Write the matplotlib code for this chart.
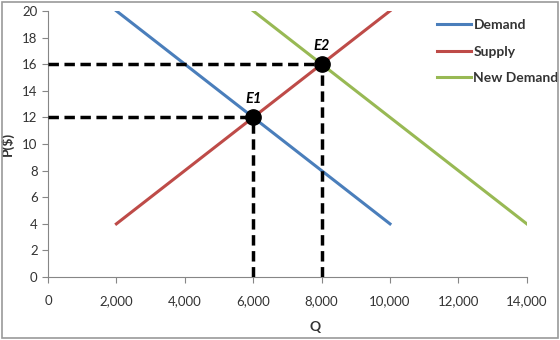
import matplotlib.pyplot as plt
from matplotlib.patches import Rectangle

plt.rcParams['font.family'] = ['Lato', 'DejaVu Sans']

# line end points
demand_q = [2000, 10000]
demand_p = [20, 4]
supply_q = [2000, 10000]
supply_p = [4, 20]
new_demand_q = [6000, 14000]
new_demand_p = [20, 4]

# equilibria
eq_names = ['E1', 'E2']
eq_q = [6000, 8000]
eq_p = [12, 16]

x_ticks = [0, 2000, 4000, 6000, 8000, 10000, 12000, 14000]
y_ticks = [0, 2, 4, 6, 8, 10, 12, 14, 16, 18, 20]

fig = plt.figure(figsize=(5.6, 3.4), dpi=100)
ax = fig.add_axes([0.0857, 0.185, 0.855, 0.783])

ax.plot(demand_q, demand_p, color='#4A7EBB', lw=2.2, label='Demand')
ax.plot(supply_q, supply_p, color='#BE4B48', lw=2.2, label='Supply')
ax.plot(new_demand_q, new_demand_p, color='#98B954', lw=2.2, label='New Demand')

for name, q, p in zip(eq_names, eq_q, eq_p):
    ax.plot([0, q], [p, p], color='black', lw=2.5, ls=(0, (3, 1.6)), zorder=4)
    ax.plot([q, q], [0, p], color='black', lw=2.5, ls=(0, (3, 1.6)), zorder=4)
    ax.plot(q, p, 'o', color='black', ms=11, zorder=5)
    ax.annotate(name, (q, p), xytext=(0, 8), textcoords='offset points',
                ha='center', va='bottom', fontsize=10.5, fontweight='bold',
                fontstyle='italic')

ax.set_xlim(0, 14000)
ax.set_ylim(0, 20)
ax.set_xticks(x_ticks)
ax.set_xticklabels([f'{v:,}' for v in x_ticks])
ax.set_yticks(y_ticks)
ax.tick_params(axis='both', colors='#868686', labelcolor='#333333',
               labelsize=9.5, length=4, direction='out')
ax.tick_params(axis='x', pad=9)
for s in ['top', 'right']:
    ax.spines[s].set_visible(False)
for s in ['left', 'bottom']:
    ax.spines[s].set_color('#868686')

ax.set_xlabel('Q', fontsize=10, fontweight='bold', color='#333333')
ax.xaxis.set_label_coords(0.558, -0.165)
ax.set_ylabel('P($)', fontsize=10, fontweight='bold', color='#333333')
ax.yaxis.set_label_coords(-0.072, 0.5)

leg = ax.legend(loc='upper left', bbox_to_anchor=(0.80, 0.99), frameon=False,
                fontsize=10, handlelength=2.5, handletextpad=0.15,
                labelspacing=1.05, borderaxespad=0)
for t in leg.get_texts():
    t.set_fontweight('bold')
    t.set_color('#333333')

fig.patches.append(Rectangle((0.004, 0.006), 0.992, 0.988, transform=fig.transFigure,
                             fill=False, edgecolor='#9a9a9a', lw=1.2))

fig.savefig('out.png', dpi=100)
